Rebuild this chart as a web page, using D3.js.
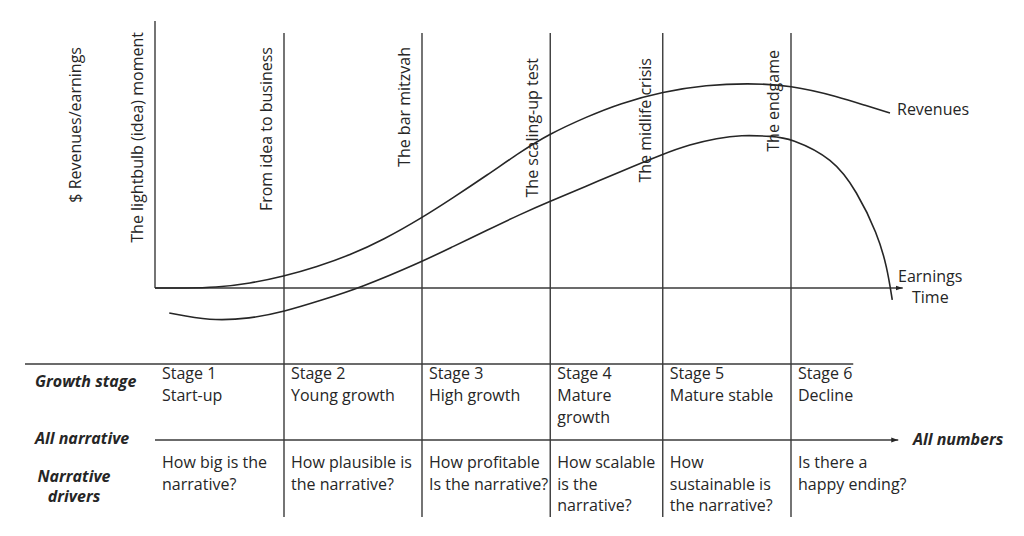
<!DOCTYPE html>
<html><head><meta charset="utf-8">
<script src="https://cdn.jsdelivr.net/npm/d3@7"></script>
<style>
html,body{margin:0;padding:0;background:#fff;}
svg{display:block;font-family:"Open Sans",sans-serif;}
</style></head>
<body><svg id="chart" width="1024" height="536"></svg>
<script>
// ---- data ----
const milestones = ["The lightbulb (idea) moment","From idea to business","The bar mitzvah","The scaling-up test","The midlife crisis","The endgame"];
const stageStarts = [0, 17.2, 35.6, 52.7, 67.7, 84.8];   // time units
const stageEnd = 93.1;
const stageLabels = ["Stage 1","Stage 2","Stage 3","Stage 4","Stage 5","Stage 6"];
const stageNames = [["Start-up"],["Young growth"],["High growth"],["Mature","growth"],["Mature stable"],["Decline"]];
const drivers = [["How big is the","narrative?"],["How plausible is","the narrative?"],["How profitable","Is the narrative?"],["How scalable","is the","narrative?"],["How","sustainable is","the narrative?"],["Is there a","happy ending?"]];
const revTime = [0, 4, 8, 12.7, 17.1, 21.6, 26, 30.4, 35.7, 39.7, 44.3, 48.7, 52.5, 57.6, 62, 67.7, 73.6, 78.9, 84.7, 91.3, 94.7, 98];
const revenues = [0, 0, 0.1, 1.8, 4.5, 8.3, 12.9, 18.8, 27.7, 35.3, 44.3, 53.3, 60.3, 67.2, 72.4, 77, 79.6, 80.3, 79.6, 74.9, 71.6, 68.6];
const earnTime = [1.9, 7.3, 12.7, 17.1, 22.4, 27.3, 35.3, 39.7, 44.3, 48.7, 52.5, 57.6, 62, 67.7, 71.3, 75, 78, 82.4, 84.7, 90.4, 93.6, 96.3, 97.6, 98.3];
const earnings = [-9.8, -12.9, -12, -9.4, -4.6, 0, 9.9, 16.2, 22.7, 28.9, 33.8, 40, 45.6, 52.5, 56.3, 58.7, 60, 59.5, 58.7, 50.9, 37.8, 21.4, 8.4, -4.7];

// ---- layout ----
const svg = d3.select("#chart");
const ink = "#262626", lineCol = "#3a3a3a";
const fs = 16;
const x = d3.scaleLinear().domain([0, 100]).range([155, 905]);
const y = d3.scaleLinear().domain([0, 100]).range([288, 33]);
const labelTop = [32, 47, 47, 58, 58, 50];
const tableTop = 364, tableMid = 440, tableBottom = 517;

svg.append("defs").append("marker").attr("id","arr").attr("viewBox","0 0 10 10")
  .attr("refX",10).attr("refY",5).attr("markerWidth",7).attr("markerHeight",7)
  .attr("markerUnits","userSpaceOnUse").attr("orient","auto")
  .append("path").attr("d","M0,1.5L10,5L0,8.5Z").attr("fill",ink);

// y axis (first milestone line)
svg.append("line").attr("x1",x(0)).attr("x2",x(0)).attr("y1",21).attr("y2",y(0))
  .attr("stroke",lineCol).attr("stroke-width",1.4);
// other milestone lines
svg.selectAll("line.stage").data(stageStarts.slice(1)).join("line").attr("class","stage")
  .attr("x1",d=>x(d)).attr("x2",d=>x(d)).attr("y1",33).attr("y2",tableBottom)
  .attr("stroke",lineCol).attr("stroke-width",1.4);
// x axis
svg.append("line").attr("x1",x(0)).attr("x2",x(99.7)).attr("y1",y(0)).attr("y2",y(0))
  .attr("stroke",lineCol).attr("stroke-width",1.4).attr("marker-end","url(#arr)");
// table lines
svg.append("line").attr("x1",25).attr("x2",x(stageEnd)).attr("y1",tableTop).attr("y2",tableTop)
  .attr("stroke",lineCol).attr("stroke-width",1.4);
svg.append("line").attr("x1",x(0)).attr("x2",x(99.1)).attr("y1",tableMid).attr("y2",tableMid)
  .attr("stroke",lineCol).attr("stroke-width",1.4).attr("marker-end","url(#arr)");

// curves
const line = d3.line().curve(d3.curveBasis);
svg.append("path").attr("d", line(revTime.map((t,i)=>[x(t), y(revenues[i])])))
  .attr("fill","none").attr("stroke",ink).attr("stroke-width",1.6);
svg.append("path").attr("d", line(earnTime.map((t,i)=>[x(t), y(earnings[i])])))
  .attr("fill","none").attr("stroke",ink).attr("stroke-width",1.6);

// vertical labels
svg.append("text").attr("transform","translate(81,47) rotate(-90)").attr("text-anchor","end")
  .attr("font-size",fs).attr("fill",ink).text("$ Revenues/earnings");
svg.selectAll("text.ms").data(milestones).join("text").attr("class","ms")
  .attr("transform",(d,i)=>`translate(${x(stageStarts[i])-12},${labelTop[i]}) rotate(-90)`)
  .attr("text-anchor","end").attr("font-size",fs).attr("fill",ink).text(d=>d);

// curve labels
svg.append("text").attr("x",897).attr("y",115).attr("font-size",fs).attr("fill",ink).text("Revenues");
svg.append("text").attr("x",898).attr("y",282).attr("font-size",fs).attr("fill",ink).text("Earnings");
svg.append("text").attr("x",912).attr("y",303).attr("font-size",fs).attr("fill",ink).text("Time");

// table left labels
const bi = s => s.attr("font-size",fs).attr("font-weight","bold").attr("font-style","italic").attr("fill",ink);
bi(svg.append("text").attr("x",35).attr("y",387).text("Growth stage"));
bi(svg.append("text").attr("x",35).attr("y",444).text("All narrative"));
bi(svg.append("text").attr("x",74).attr("y",482).attr("text-anchor","middle").text("Narrative"));
bi(svg.append("text").attr("x",74).attr("y",502).attr("text-anchor","middle").text("drivers"));
bi(svg.append("text").attr("x",913).attr("y",445).text("All numbers"));

// stage cells
const cells = svg.selectAll("g.cell").data(stageLabels).join("g").attr("class","cell")
  .attr("transform",(d,i)=>`translate(${x(stageStarts[i])+7},0)`);
cells.each(function(d,i){
  const g = d3.select(this);
  [d, ...stageNames[i]].forEach((s,k)=>g.append("text").attr("x",0).attr("y",379+k*22)
    .attr("font-size",fs).attr("fill",ink).text(s));
  drivers[i].forEach((s,k)=>g.append("text").attr("x",0).attr("y",468+k*21.5)
    .attr("font-size",fs).attr("fill",ink).text(s));
});
</script></body></html>
